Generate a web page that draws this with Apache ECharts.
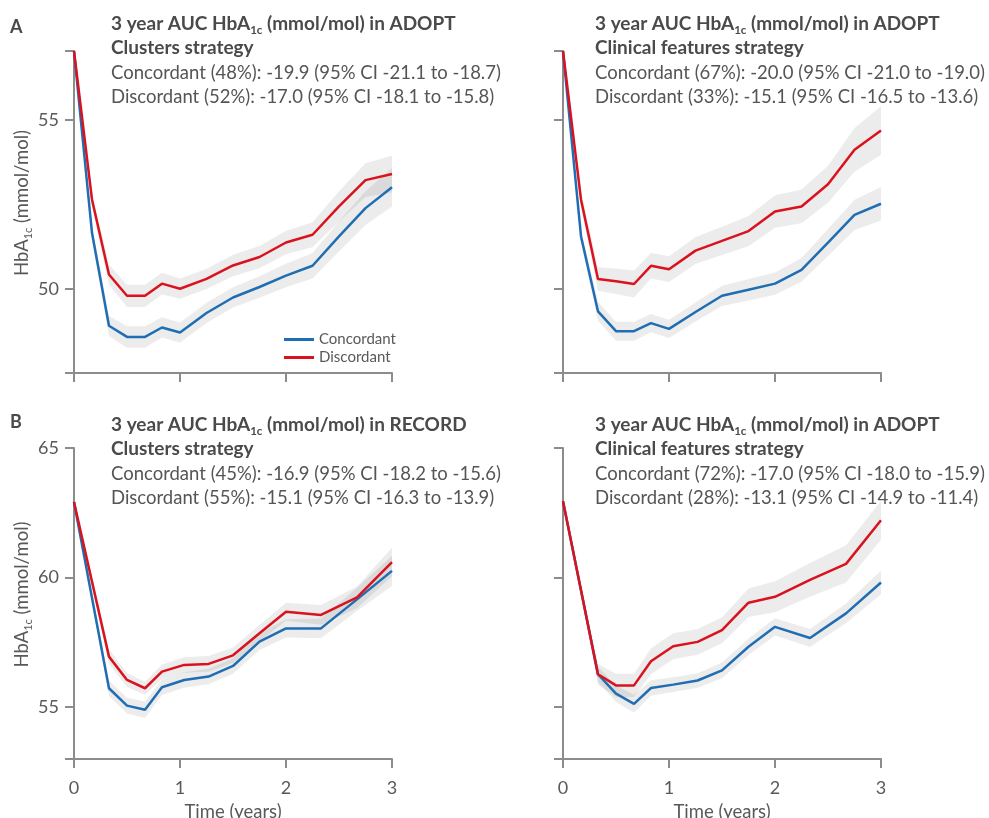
<!DOCTYPE html>
<html><head><meta charset="utf-8">
<script src="https://cdn.jsdelivr.net/npm/echarts@6/dist/echarts.min.js"></script>
<style>html,body{margin:0;padding:0;background:#fff}#c{width:989px;height:818px}</style>
</head><body><div id="c"></div>
<script>
// ---- data ----
const adoptTime = [0, 0.17, 0.33, 0.5, 0.67, 0.83, 1, 1.25, 1.5, 1.75, 2, 2.25, 2.5, 2.75, 3];
const recordTime = [0, 0.33, 0.5, 0.67, 0.83, 1.04, 1.27, 1.5, 1.75, 2, 2.33, 2.67, 3];
const xTicks = [0, 1, 2, 3];

// Panel A left: ADOPT, clusters strategy
const tlConc   = [57.05, 51.65, 48.90, 48.57, 48.57, 48.85, 48.70, 49.28, 49.74, 50.05, 50.39, 50.68, 51.55, 52.39, 53.01];
const tlConcLo = [57.00, 51.45, 48.60, 48.25, 48.25, 48.55, 48.40, 48.98, 49.44, 49.73, 50.04, 50.30, 51.10, 51.89, 52.44];
const tlConcHi = [57.05, 51.85, 49.20, 48.89, 48.89, 49.15, 49.00, 49.58, 50.04, 50.37, 50.74, 51.06, 52.00, 52.89, 53.58];
const tlDisc   = [57.05, 52.64, 50.42, 49.79, 49.79, 50.15, 50.00, 50.29, 50.69, 50.94, 51.37, 51.60, 52.44, 53.22, 53.40];
const tlDiscLo = [57.00, 52.44, 50.12, 49.46, 49.46, 49.83, 49.70, 49.99, 50.37, 50.61, 51.02, 51.23, 51.99, 52.72, 52.85];
const tlDiscHi = [57.05, 52.84, 50.72, 50.12, 50.12, 50.47, 50.30, 50.59, 51.01, 51.27, 51.72, 51.97, 52.89, 53.72, 53.95];

// Panel A right: ADOPT, clinical features strategy
const trConc   = [57.05, 51.55, 49.33, 48.74, 48.74, 48.98, 48.81, 49.31, 49.79, 49.97, 50.15, 50.56, 51.37, 52.19, 52.52];
const trConcLo = [57.00, 51.35, 49.05, 48.46, 48.46, 48.71, 48.54, 49.03, 49.49, 49.65, 49.82, 50.21, 50.97, 51.74, 52.02];
const trConcHi = [57.05, 51.75, 49.61, 49.02, 49.02, 49.25, 49.08, 49.59, 50.09, 50.29, 50.48, 50.91, 51.77, 52.64, 53.02];
const trDisc   = [57.05, 52.64, 50.29, 50.22, 50.14, 50.68, 50.58, 51.13, 51.42, 51.71, 52.29, 52.44, 53.10, 54.12, 54.69];
const trDiscLo = [57.00, 52.39, 49.94, 49.84, 49.74, 50.30, 50.20, 50.73, 51.00, 51.26, 51.81, 51.94, 52.55, 53.47, 53.97];
const trDiscHi = [57.05, 52.89, 50.64, 50.60, 50.54, 51.06, 50.96, 51.53, 51.84, 52.16, 52.77, 52.94, 53.65, 54.77, 55.41];

// Panel B left: RECORD, clusters strategy
const blConc   = [62.92, 55.73, 55.06, 54.90, 55.77, 56.05, 56.18, 56.59, 57.53, 58.04, 58.04, 59.16, 60.26];
const blConcLo = [62.87, 55.43, 54.76, 54.58, 55.47, 55.75, 55.88, 56.29, 57.21, 57.69, 57.66, 58.71, 59.68];
const blConcHi = [62.97, 56.03, 55.36, 55.22, 56.07, 56.35, 56.48, 56.89, 57.85, 58.39, 58.42, 59.61, 60.84];
const blDisc   = [62.92, 56.95, 56.05, 55.73, 56.37, 56.63, 56.67, 57.00, 57.85, 58.68, 58.56, 59.24, 60.60];
const blDiscLo = [62.87, 56.67, 55.78, 55.48, 56.09, 56.33, 56.37, 56.70, 57.53, 58.33, 58.18, 58.82, 60.05];
const blDiscHi = [62.97, 57.23, 56.32, 55.98, 56.65, 56.93, 56.97, 57.30, 58.17, 59.03, 58.94, 59.66, 61.15];

// Panel B right: ADOPT, clinical features strategy
const brConc   = [62.95, 56.27, 55.52, 55.13, 55.74, 55.87, 56.03, 56.42, 57.33, 58.10, 57.67, 58.62, 59.81];
const brConcLo = [62.90, 55.97, 55.20, 54.78, 55.44, 55.59, 55.75, 56.12, 57.01, 57.77, 57.32, 58.24, 59.36];
const brConcHi = [63.00, 56.57, 55.84, 55.48, 56.04, 56.15, 56.31, 56.72, 57.65, 58.43, 58.02, 59.00, 60.26];
const brDisc   = [62.95, 56.27, 55.84, 55.84, 56.77, 57.35, 57.52, 57.97, 59.03, 59.26, 59.91, 60.53, 62.21];
const brDiscLo = [62.90, 55.87, 55.39, 55.39, 56.27, 56.85, 57.02, 57.47, 58.48, 58.66, 59.26, 59.81, 61.46];
const brDiscHi = [63.00, 56.67, 56.29, 56.29, 57.27, 57.85, 58.02, 58.47, 59.58, 59.86, 60.56, 61.25, 62.96];

const topYTicks = [47.5, 50, 55, 57.05];
const topYLabels = [50, 55];
const botYTicks = [53, 55, 60, 65];
const botYLabels = [55, 60, 65];

const titles = [
  ['3 year AUC HbA', ' (mmol/mol) in ADOPT', 'Clusters strategy',
   'Concordant (48%): -19.9 (95% CI -21.1 to -18.7)', 'Discordant (52%): -17.0 (95% CI -18.1 to -15.8)'],
  ['3 year AUC HbA', ' (mmol/mol) in ADOPT', 'Clinical features strategy',
   'Concordant (67%): -20.0 (95% CI -21.0 to -19.0)', 'Discordant (33%): -15.1 (95% CI -16.5 to -13.6)'],
  ['3 year AUC HbA', ' (mmol/mol) in RECORD', 'Clusters strategy',
   'Concordant (45%): -16.9 (95% CI -18.2 to -15.6)', 'Discordant (55%): -15.1 (95% CI -16.3 to -13.9)'],
  ['3 year AUC HbA', ' (mmol/mol) in ADOPT', 'Clinical features strategy',
   'Concordant (72%): -17.0 (95% CI -18.0 to -15.9)', 'Discordant (28%): -13.1 (95% CI -14.9 to -11.4)']
];

// ---- styling ----
const FONT = 'Lato';
const BLUE = '#1f6db3';
const RED = '#d9121e';
const AXIS = '#8c8c8c';
const LABEL = '#595959';
const BAND = 'rgba(0,0,0,0.075)';

const panels = [
  {t: adoptTime, c: tlConc, cl: tlConcLo, ch: tlConcHi, d: tlDisc, dl: tlDiscLo, dh: tlDiscHi},
  {t: adoptTime, c: trConc, cl: trConcLo, ch: trConcHi, d: trDisc, dl: trDiscLo, dh: trDiscHi},
  {t: recordTime, c: blConc, cl: blConcLo, ch: blConcHi, d: blDisc, dl: blDiscLo, dh: blDiscHi},
  {t: recordTime, c: brConc, cl: brConcLo, ch: brConcHi, d: brDisc, dl: brDiscLo, dh: brDiscHi}
];

const grids = [
  {left: 74, top: 51, width: 318, height: 322, outerBoundsMode: 'none', containLabel: false},
  {left: 563, top: 51, width: 318, height: 322, outerBoundsMode: 'none', containLabel: false},
  {left: 74, top: 448, width: 318, height: 311, outerBoundsMode: 'none', containLabel: false},
  {left: 563, top: 448, width: 318, height: 311, outerBoundsMode: 'none', containLabel: false}
];

const yNameRich = {
  n: {fontFamily: FONT, fontSize: 18.5, color: LABEL, lineHeight: 24},
  s: {fontFamily: FONT, fontSize: 11, color: LABEL, lineHeight: 12, verticalAlign: 'bottom'}
};

const xAxes = grids.map((g, i) => ({
  gridIndex: i, type: 'value', min: 0, max: 3, interval: 1,
  axisLine: {show: true, lineStyle: {color: AXIS, width: 2}},
  axisTick: {show: true, length: 9, lineStyle: {color: AXIS, width: 2}, customValues: xTicks},
  axisLabel: {show: i >= 2, customValues: xTicks, fontFamily: FONT, fontSize: 18, color: LABEL, margin: 20},
  splitLine: {show: false},
  name: i >= 2 ? 'Time (years)' : '', nameLocation: 'middle', nameGap: 44,
  nameTextStyle: {fontFamily: FONT, fontSize: 18.5, color: LABEL}
}));

const yAxes = grids.map((g, i) => {
  const top = i < 2;
  return {
    gridIndex: i, type: 'value',
    min: top ? 47.5 : 53, max: top ? 57.05 : 65,
    axisLine: {show: true, lineStyle: {color: AXIS, width: 2}},
    axisTick: {show: true, length: 9, lineStyle: {color: AXIS, width: 2}, customValues: top ? topYTicks : botYTicks},
    axisLabel: {show: i % 2 === 0, customValues: top ? topYLabels : botYLabels,
      fontFamily: FONT, fontSize: 18, color: LABEL, margin: 15},
    splitLine: {show: false},
    name: i % 2 === 0 ? '{n|HbA}{s|1c}{n| (mmol/mol)}' : '',
    nameLocation: 'middle', nameGap: 39,
    nameTextStyle: {rich: yNameRich, padding: [0, 0, 0, 18]}
  };
});

function bandRender(params, api) {
  if (params.dataIndexInside !== 0) return;
  const n = params.dataInsideLength;
  const pts = [];
  for (let k = 0; k < n; k++) pts.push(api.coord([api.value(0, k), api.value(2, k)]));
  for (let k = n - 1; k >= 0; k--) pts.push(api.coord([api.value(0, k), api.value(1, k)]));
  return {type: 'polygon', shape: {points: pts}, style: {fill: BAND}, silent: true};
}

const series = [];
panels.forEach((p, i) => {
  const zip3 = (lo, hi) => p.t.map((t, k) => [t, lo[k], hi[k]]);
  const zip2 = (v) => p.t.map((t, k) => [t, v[k]]);
  series.push({type: 'custom', xAxisIndex: i, yAxisIndex: i, renderItem: bandRender,
    data: zip3(p.cl, p.ch), encode: {x: 0, y: [1, 2]}, z: 1, silent: true, clip: false});
  series.push({type: 'custom', xAxisIndex: i, yAxisIndex: i, renderItem: bandRender,
    data: zip3(p.dl, p.dh), encode: {x: 0, y: [1, 2]}, z: 1, silent: true, clip: false});
  series.push({type: 'line', name: 'Concordant', xAxisIndex: i, yAxisIndex: i, data: zip2(p.c),
    symbol: 'none', lineStyle: {color: BLUE, width: 2.5}, itemStyle: {color: BLUE}, z: 3, animation: false});
  series.push({type: 'line', name: 'Discordant', xAxisIndex: i, yAxisIndex: i, data: zip2(p.d),
    symbol: 'none', lineStyle: {color: RED, width: 2.5}, itemStyle: {color: RED}, z: 4, animation: false});
});

const titleRich = {
  b: {fontFamily: FONT, fontSize: 19, fontWeight: 'bold', fill: '#4a4a4a', lineHeight: 24},
  s: {fontFamily: FONT, fontSize: 11.5, fontWeight: 'bold', fill: '#4a4a4a', lineHeight: 12, verticalAlign: 'bottom'},
  r: {fontFamily: FONT, fontSize: 18.5, fill: '#555555', lineHeight: 24}
};
const graphic = [];
const tx = [111, 595, 111, 595];
const ty = [24, 24, 425, 425];
titles.forEach((tt, i) => {
  const lines = [
    '{b|' + tt[0] + '}{s|1c}{b|' + tt[1] + '}',
    '{b|' + tt[2] + '}',
    '{r|' + tt[3] + '}',
    '{r|' + tt[4] + '}'
  ];
  lines.forEach((ln, j) => {
    graphic.push({type: 'text', x: tx[i], y: ty[i] + j * 24.3, z: 10,
      style: {text: ln, rich: titleRich, verticalAlign: 'middle', align: 'left'}});
  });
});
graphic.push({type: 'text', x: 10, y: 27.5, style: {text: 'A', fontFamily: FONT, fontSize: 18, fontWeight: 'bold', fill: '#4a4a4a', verticalAlign: 'middle'}});
graphic.push({type: 'text', x: 10, y: 422, style: {text: 'B', fontFamily: FONT, fontSize: 18, fontWeight: 'bold', fill: '#4a4a4a', verticalAlign: 'middle'}});

const chart = echarts.init(document.getElementById('c'), null, {renderer: 'canvas'});
chart.setOption({
  animation: false,
  backgroundColor: '#ffffff',
  grid: grids,
  xAxis: xAxes,
  yAxis: yAxes,
  legend: {
    left: 279, top: 327, orient: 'vertical', itemWidth: 30, itemHeight: 3, itemGap: 3,
    icon: 'rect',
    data: [{name: 'Concordant', itemStyle: {color: BLUE}}, {name: 'Discordant', itemStyle: {color: RED}}],
    textStyle: {fontFamily: FONT, fontSize: 15, color: LABEL}
  },
  graphic: graphic,
  series: series
});
</script></body></html>
